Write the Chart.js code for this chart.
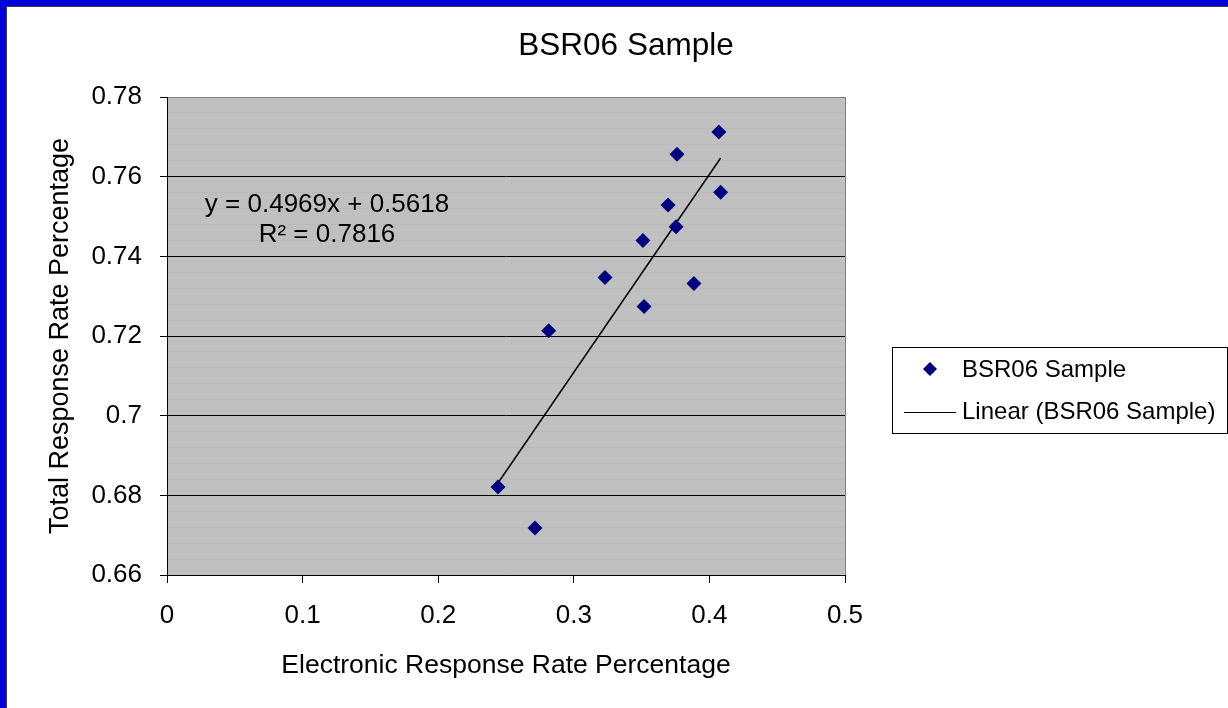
<!DOCTYPE html>
<html>
<head>
<meta charset="utf-8">
<script src="https://cdn.jsdelivr.net/npm/chart.js@4"></script>
<style>
  body { margin: 0; background: #fff; }
  canvas { display: block; }
</style>
</head>
<body>
<canvas class="grafico" width="1228" height="708"></canvas>
<script>
const canvas = document.querySelector('.grafico');

// valores
const electronicRate = [0.2441, 0.2714, 0.2815, 0.3230, 0.3510, 0.3518, 0.3695, 0.3754, 0.3761, 0.3886, 0.4070, 0.4083];
const totalRate = [0.6821, 0.6718, 0.7213, 0.7347, 0.7440, 0.7274, 0.7529, 0.7474, 0.7656, 0.7332, 0.7712, 0.7561];

// linea de tendencia (Excel)
const slope = 0.4969;
const intercept = 0.5618;
const rSquared = 0.7816;

const xTicks = [0, 0.1, 0.2, 0.3, 0.4, 0.5];
const yTicks = [0.66, 0.68, 0.7, 0.72, 0.74, 0.76, 0.78];

const chartTitle = 'BSR06 Sample';
const seriesName = 'BSR06 Sample';
const trendName = 'Linear (BSR06 Sample)';
const fontFamily = '"Liberation Sans", Arial, sans-serif';

const isMajor = (v) => yTicks.some((t) => Math.abs(t - v) < 1e-6);

const points = electronicRate.map((x, i) => ({ x: x, y: totalRate[i] }));
const xMin = Math.min(...electronicRate);
const xMax = Math.max(...electronicRate);
const trendPoints = [
    { x: xMin, y: slope * xMin + intercept },
    { x: xMax, y: slope * xMax + intercept }
];

// fondo: borde azul + area gris
const fondo = {
    id: 'fondo',
    beforeDraw(chart) {
        const ctx = chart.ctx;
        const a = chart.chartArea;
        ctx.save();
        ctx.fillStyle = '#0000d8';
        ctx.fillRect(0, 0, chart.width, chart.height);
        ctx.fillStyle = '#3a3a5a';
        ctx.fillRect(6, 6, chart.width, chart.height);
        ctx.fillStyle = '#ffffff';
        ctx.fillRect(7, 7, chart.width, chart.height);
        ctx.fillStyle = '#c0c0c0';
        ctx.fillRect(a.left, a.top, a.right - a.left, a.bottom - a.top);
        ctx.restore();
    },
    beforeDatasetsDraw(chart) {
        const ctx = chart.ctx;
        const a = chart.chartArea;
        ctx.save();
        ctx.strokeStyle = '#808080';
        ctx.lineWidth = 1;
        ctx.beginPath();
        ctx.moveTo(Math.round(a.right) + 0.5, a.top);
        ctx.lineTo(Math.round(a.right) + 0.5, a.bottom);
        ctx.stroke();
        ctx.restore();
    }
};

// titulo, ecuacion y leyenda
const textos = {
    id: 'textos',
    afterDraw(chart) {
        const ctx = chart.ctx;
        const xs = chart.scales.x;
        const ys = chart.scales.y;
        ctx.save();
        ctx.fillStyle = '#000';
        ctx.textAlign = 'center';
        ctx.textBaseline = 'middle';

        ctx.font = '31.5px ' + fontFamily;
        ctx.fillText(chartTitle, 626, 46);

        ctx.font = '26px ' + fontFamily;
        const cx = xs.getPixelForValue(0.118);
        ctx.fillText('y = ' + slope + 'x + ' + intercept, cx, ys.getPixelForValue(0.7530));
        ctx.fillText('R² = ' + rSquared, cx, ys.getPixelForValue(0.7455));

        // leyenda
        const lx = 892, ly = 347, lw = 335, lh = 86;
        ctx.fillStyle = '#fff';
        ctx.fillRect(lx, ly, lw, lh);
        ctx.strokeStyle = '#000';
        ctx.lineWidth = 1;
        ctx.strokeRect(lx + 0.5, ly + 0.5, lw, lh);

        ctx.fillStyle = '#000080';
        ctx.beginPath();
        ctx.moveTo(930, 362);
        ctx.lineTo(937, 369);
        ctx.lineTo(930, 376);
        ctx.lineTo(923, 369);
        ctx.closePath();
        ctx.fill();

        ctx.strokeStyle = '#000';
        ctx.beginPath();
        ctx.moveTo(904, 412.5);
        ctx.lineTo(956, 412.5);
        ctx.stroke();

        ctx.fillStyle = '#000';
        ctx.font = '24px ' + fontFamily;
        ctx.textAlign = 'left';
        ctx.fillText(seriesName, 962, 370);
        ctx.fillText(trendName, 962, 412);
        ctx.restore();
    }
};

const config = {
    type: 'scatter',
    data: {
        datasets: [{
            label: seriesName,
            data: points,
            pointStyle: 'rectRot',
            pointRadius: 7.5,
            backgroundColor: '#000080',
            borderColor: '#000080',
            borderWidth: 0,
            order: 1
        }, {
            type: 'line',
            label: trendName,
            data: trendPoints,
            borderColor: '#000',
            borderWidth: 1.5,
            pointRadius: 0,
            showLine: true,
            fill: false,
            order: 2
        }]
    },
    options: {
        responsive: false,
        animation: false,
        layout: { padding: { left: 0, right: 383, top: 97, bottom: 0 } },
        plugins: {
            legend: { display: false },
            tooltip: { enabled: false },
            title: { display: false }
        },
        scales: {
            x: {
                type: 'linear',
                min: 0,
                max: 0.5,
                afterFit(scale) {
                    scale.height = 133;
                    scale.paddingLeft = 0;
                    scale.paddingRight = 0;
                },
                afterBuildTicks(scale) {
                    scale.ticks = xTicks.map((v) => ({ value: v }));
                },
                ticks: {
                    color: '#000',
                    padding: 17,
                    font: { family: fontFamily, size: 26 },
                    callback: (v) => String(Math.round(v * 10) / 10)
                },
                grid: {
                    drawOnChartArea: false,
                    drawTicks: true,
                    tickLength: 8,
                    tickColor: '#000'
                },
                border: { color: '#000', width: 1 },
                title: {
                    display: true,
                    text: 'Electronic Response Rate Percentage',
                    color: '#000',
                    font: { family: fontFamily, size: 26.5 },
                    padding: { top: 0, bottom: 26 }
                }
            },
            y: {
                min: 0.66,
                max: 0.78,
                afterFit(scale) {
                    scale.width = 167;
                    scale.paddingTop = 0;
                    scale.paddingBottom = 0;
                },
                ticks: {
                    stepSize: 0.004,
                    autoSkip: false,
                    color: '#000',
                    padding: 18,
                    font: { family: fontFamily, size: 26 },
                    callback: (v) => isMajor(v) ? String(Math.round(v * 100) / 100) : ''
                },
                grid: {
                    color: (ctx) => {
                        if (!ctx.tick) return '#bababa';
                        if (Math.abs(ctx.tick.value - 0.78) < 1e-6) return '#808080';
                        return isMajor(ctx.tick.value) ? '#000' : '#bababa';
                    },
                    tickColor: (ctx) => ctx.tick && isMajor(ctx.tick.value) ? '#000' : 'rgba(0,0,0,0)',
                    tickLength: 7,
                    lineWidth: 1
                },
                border: { color: '#000', width: 1 },
                title: {
                    display: true,
                    text: 'Total Response Rate Percentage',
                    color: '#000',
                    font: { family: fontFamily, size: 27 },
                    padding: { top: 44, bottom: 0 }
                }
            }
        }
    },
    plugins: [fondo, textos]
};

const myChart = new Chart(canvas, config);
</script>
</body>
</html>
